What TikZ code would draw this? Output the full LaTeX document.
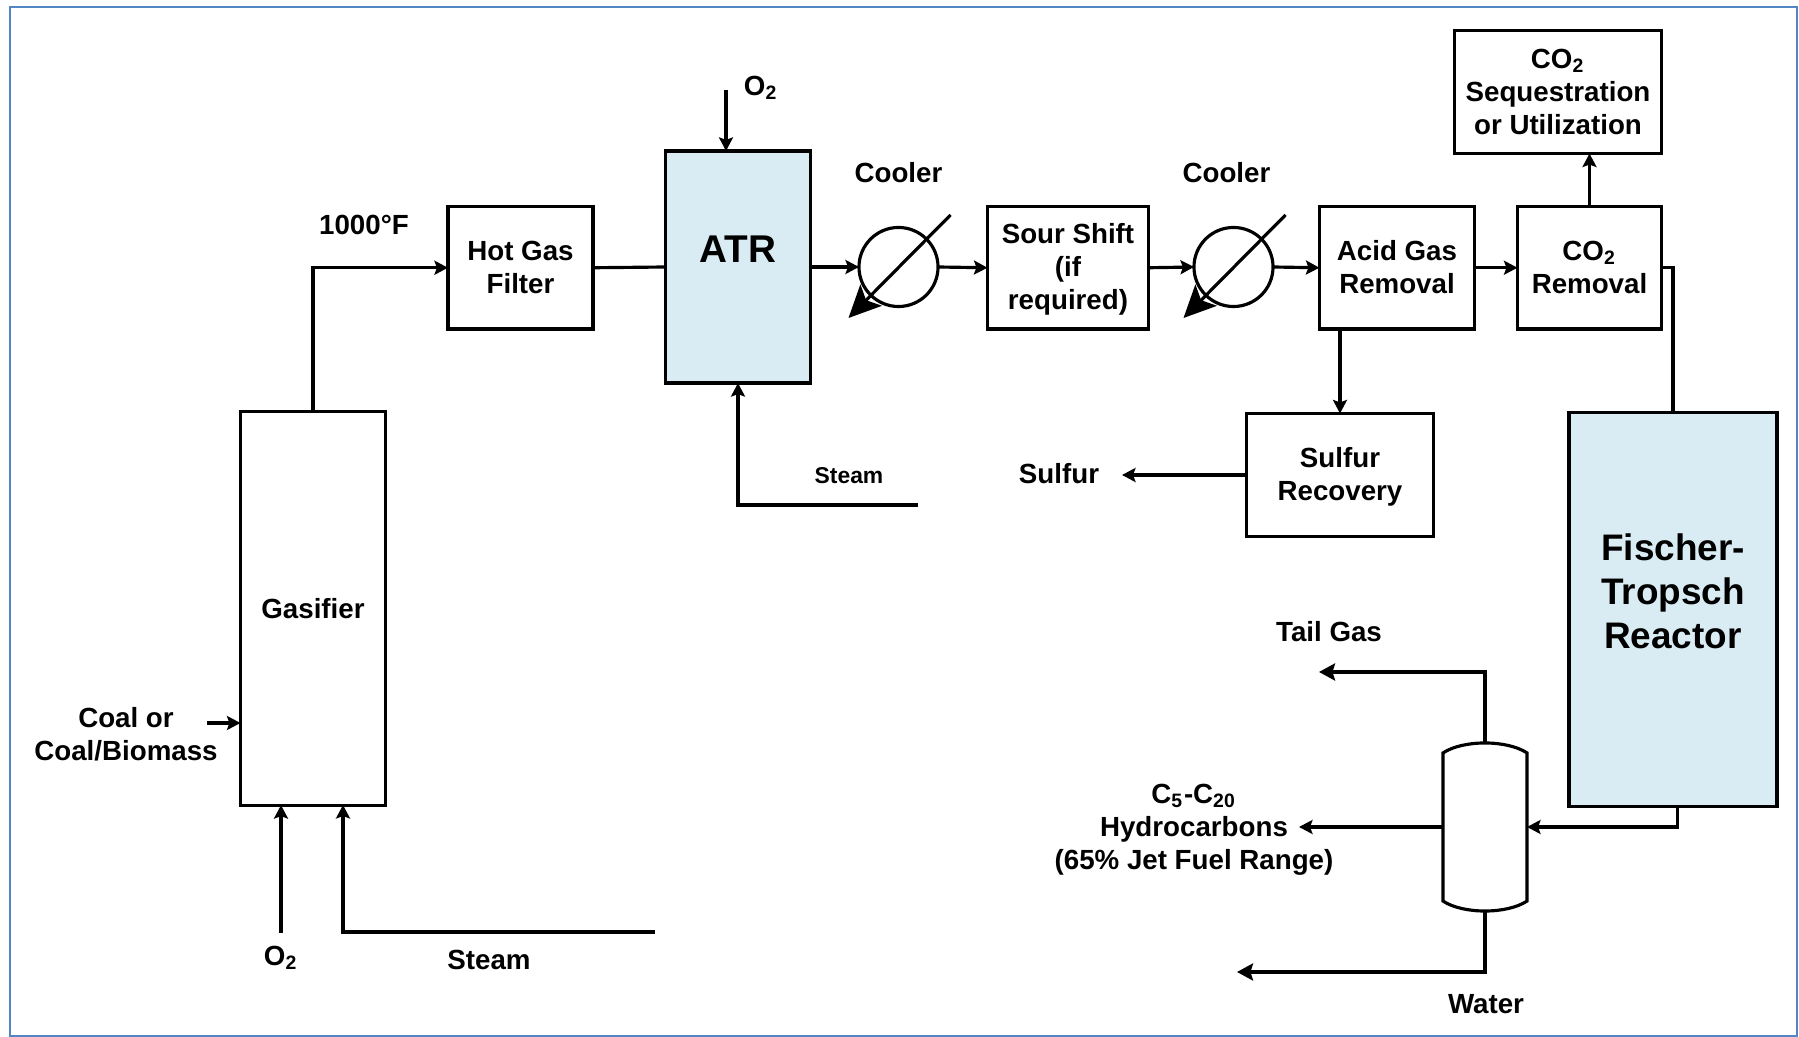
\documentclass[tikz,border=0pt]{standalone}
\usepackage{fontspec}
\setmainfont{Liberation Sans}
\usetikzlibrary{arrows.meta, calc}
\definecolor{framecol}{RGB}{84,134,196}
\definecolor{reactfill}{RGB}{218,236,243}

\begin{document}
\begin{tikzpicture}[
    x=0.01cm, y=-0.01cm,
    line width=0.9pt,
    unit/.style={draw, inner sep=0pt, outer sep=0pt, align=center,
                 font=\bfseries\fontsize{7.88}{9.4}\selectfont},
    reactor/.style={unit, fill=reactfill},
    cooler/.style={draw, circle, minimum size=0.79cm, inner sep=0pt, outer sep=0pt},
    biglbl/.style={inner sep=0pt, align=center,
                   font=\bfseries\fontsize{10.5}{12.5}\selectfont},
    lbl/.style={inner sep=0pt, align=center,
                font=\bfseries\fontsize{7.88}{9.4}\selectfont},
    flow/.style={->, >={Stealth[length=1.35mm,width=1.4mm,inset=0.25mm]}},
    bigflow/.style={->, >={Stealth[length=1.6mm,width=1.7mm,inset=0.25mm]}},
    coolarrow/.style={->, >={Stealth[length=3.2mm,width=3mm,inset=0.7mm]}}
  ]
  \useasboundingbox (0,0) rectangle (1799,1037);
  \draw[framecol, line width=0.8pt, fill=white] (10,7) rectangle (1797,1036);

  % Units
  \node[unit, minimum width=1.45cm, minimum height=3.93cm] (gasifier) at (313,608.5) {Gasifier};
  \node[unit, minimum width=1.45cm, minimum height=1.225cm] (hotgas) at (520.5,267.75) {Hot Gas\\Filter};
  \node[reactor, minimum width=1.45cm, minimum height=2.32cm] (atr) at (738,267) {};
  \node[biglbl, font=\bfseries\fontsize{11}{12.5}\selectfont] (atrlbl) at (738,249) {ATR};
  \node[cooler] (coola) at (898.5,267) {};
  \node[unit, minimum width=1.61cm, minimum height=1.225cm] (sour) at (1068,267.75) {\rule{0pt}{6.7pt}Sour Shift\\(if\\required)};
  \node[cooler] (coolb) at (1233.5,267) {};
  \node[unit, minimum width=1.55cm, minimum height=1.225cm] (acid) at (1397,267.75) {Acid Gas\\Removal\rule[-0.65pt]{0pt}{0pt}};
  \node[unit, minimum width=1.44cm, minimum height=1.225cm] (co2rem) at (1589.5,267.75) {CO\textsubscript{2}\\Removal};
  \node[unit, minimum width=2.07cm, minimum height=1.23cm] (co2seq) at (1558,92) {CO\textsubscript{2}\\Sequestration\\or Utilization};
  \node[unit, minimum width=1.87cm, minimum height=1.23cm] (sulfrec) at (1340,475) {\rule{0pt}{7pt}Sulfur\\Recovery};
  \node[reactor, minimum width=2.08cm, minimum height=3.93cm] (ftr) at (1673,609.5) {};
  \node[biglbl] (ftrlbl) at (1673,591) {Fischer-\\Tropsch\\Reactor};

  % Separator vessel
  \node[minimum width=0.84cm, minimum height=1.68cm, inner sep=0pt, outer sep=0pt] (sep) at (1485,827) {};
  \draw ($(sep.north west)+(0,10)$) .. controls ($(sep.north)+(-22,-3.3)$) and ($(sep.north)+(22,-3.3)$) .. ($(sep.north east)+(0,10)$)
    -- ($(sep.south east)+(0,-10)$) .. controls ($(sep.south)+(22,3.3)$) and ($(sep.south)+(-22,3.3)$) .. ($(sep.south west)+(0,-10)$) -- cycle;

  % Labels
  \node[lbl] (hotlbl) at (364,225) {1000°F};
  \node[lbl] (o2top) at (761,88) {O\textsubscript{2}};
  \node[lbl] (coolalbl) at (898.5,173) {Cooler};
  \node[lbl] (coolblbl) at (1226.5,173) {Cooler};
  \node[lbl, font=\bfseries\fontsize{6.5}{8}\selectfont] (steamatr) at (849,476) {Steam};
  \node[lbl] (sulfur) at (1059,474) {Sulfur};
  \node[lbl] (coal) at (126,734) {Coal or\\Coal/Biomass};
  \node[lbl] (o2bot) at (281,958) {O\textsubscript{2}};
  \node[lbl] (steambot) at (489,960) {Steam};
  \node[lbl] (tailgas) at (1329,632) {Tail Gas};
  \node[lbl] (hydro) at (1194,830) {C\textsubscript{5}-C\textsubscript{20}\\Hydrocarbons\\(65\% Jet Fuel Range)};
  \node[lbl] (water) at (1486,1004) {Water};

  % Free ends
  \coordinate (o2topend) at (726,90);
  \coordinate (steamatrend) at (918,505);
  \coordinate (coalend) at (207,723);
  \coordinate (o2botend) at (281,933);
  \coordinate (steambotend) at (655,932);
  \coordinate (sulfurend) at (1122,475);
  \coordinate (tailend) at (1319,672);
  \coordinate (hydroend) at (1299,827);
  \coordinate (waterend) at (1237,972);

  % Main train
  \draw[flow] (gasifier.north) |- (hotgas.west);
  \draw (hotgas.east) -- (atr.west);
  \draw[flow] (atr.east) -- (coola.west);
  \draw[flow] (coola.east) -- (sour.west);
  \draw[flow] (sour.east) -- (coolb.west);
  \draw[flow] (coolb.east) -- (acid.west);
  \draw[flow] (acid.east) -- (co2rem.west);
  \draw[flow] (co2rem.north) -- (co2rem.north |- co2seq.south);
  \draw (co2rem.east) -| (ftr.north);
  \draw[flow] (sulfrec.north |- acid.south) -- (sulfrec.north);
  \draw[flow] (sulfrec.west) -- (sulfurend);

  % Coolers
  \draw[coolarrow] ($(coola)+(52,-52)$) -- ($(coola)+(-50,51)$);
  \draw[coolarrow] ($(coolb)+(52,-52)$) -- ($(coolb)+(-50,51)$);

  % Feeds
  \draw[flow] (o2topend) -- (o2topend |- atr.north);
  \draw[flow] (steamatrend) -| (atr.south);
  \draw[flow] (coalend) -- (coalend -| gasifier.west);
  \draw[flow] (o2botend) -- (o2botend |- gasifier.south);
  \draw[flow] (steambotend) -| (343,805);

  % Products
  \draw[flow] ($(ftr.south)+(4.5,0)$) |- (sep.east);
  \draw[bigflow] (sep.north) |- (tailend);
  \draw[flow] (sep.west) -- (hydroend);
  \draw[bigflow] (sep.south) |- (waterend);
\end{tikzpicture}
\end{document}
